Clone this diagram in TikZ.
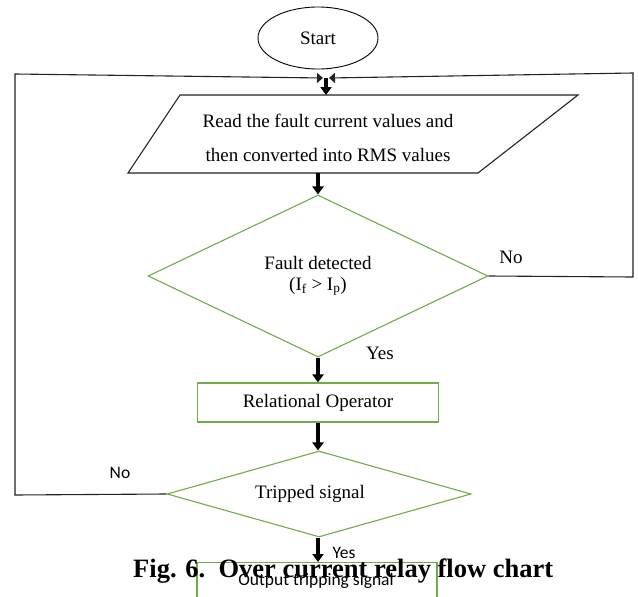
\documentclass[tikz,border=0pt]{standalone}
\usepackage{fontspec}
\setmainfont{Liberation Serif}
\newfontfamily\calibrifont{Carlito}
\usetikzlibrary{shapes.geometric,arrows.meta}
\definecolor{fgreen}{RGB}{112,173,71}
\definecolor{lgray}{RGB}{35,35,35}
\begin{document}
\begin{tikzpicture}[x=1pt,y=-1pt,
  txt/.style={font=\fontsize{19}{21}\selectfont, inner sep=0pt, align=center},
  sans/.style={font=\calibrifont\fontsize{17.5}{20}\selectfont, inner sep=0pt},
  gbox/.style={draw=fgreen, line width=1.1pt},
  bline/.style={draw=lgray, line width=1.1pt},
  looptip/.style={-{Triangle[width=10pt,length=6pt]}},
  flow/.style={-{Triangle[width=11pt,length=8pt]}, line width=3.4pt, draw=black},
]
\useasboundingbox (0,0) rectangle (638,597);
\fill[white] (0,0) rectangle (638,597);
\clip (0,0) rectangle (638,597);

% start
\node[ellipse, draw=black, line width=0.9pt, minimum width=120pt, minimum height=62pt, txt] (start) at (318,38) {Start};

% input parallelogram
\coordinate (p1) at (180,95);
\coordinate (p2) at (578,95);
\coordinate (p3) at (478,173);
\coordinate (p4) at (128,173);
\draw[bline] (p1) -- (p2) -- (p3) -- (p4) -- cycle;
\node[txt, font=\fontsize{19}{34}\selectfont] (readtxt) at (328,138) {Read the fault current values and\\then converted into RMS values};
\coordinate (ptop) at (326,95);
\coordinate (pbot) at (318,173);

% decision 1
\node[diamond, gbox, minimum width=340pt, minimum height=162pt, aspect=2.1, txt] (d1) at (318,276) {Fault detected\\(I\textsubscript{f} > I\textsubscript{p})};

% relational operator
\node[rectangle, gbox, minimum width=241pt, minimum height=39pt, txt] (rel) at (318,402.5) {Relational Operator};

% decision 2
\node[diamond, gbox, minimum width=304pt, minimum height=86pt, aspect=3.5, inner sep=0pt] (d2) at (319,494) {};
\node[txt, anchor=base] (d2t) at (310,498) {Tripped signal};

% output box
\node[rectangle, gbox, minimum width=240pt, minimum height=60pt, anchor=north, inner sep=0pt] (out) at (317,562) {};
\node[sans, anchor=base] (outtxt) at (316,585) {Output tripping signal};

% labels
\node[txt, anchor=base] (no1) at (511,263) {No};
\node[txt, anchor=base] (yes1) at (380,359) {Yes};
\node[sans, anchor=base] (no2) at (120,478) {No};
\node[sans, anchor=base] (yes2) at (344,558) {Yes};

% loop-back lines
\coordinate (j) at (326,78);
\coordinate (jl) at (323,78);
\coordinate (jr) at (329,78);
\coordinate (lc1) at (15,495);
\coordinate (lc2) at (15,74);
\coordinate (rc1) at (633,277);
\coordinate (rc2) at (633,73);
\draw[bline, looptip] (d2.west) -- (lc1) -- (lc2) -- (jl);
\draw[bline, looptip] (d1.east) -- (rc1) -- (rc2) -- (jr);

% flow arrows
\draw[flow] (j) -- (ptop);
\draw[flow] (pbot) -- (d1.north);
\draw[flow] (d1.south) -- (d1.south |- rel.north);
\draw[flow] (d1.south |- rel.south) -- (d1.south |- d2.north);
\draw[flow] (d1.south |- d2.south) -- (d1.south |- out.north);

% caption
\node[font=\bfseries\fontsize{26.5}{30}\selectfont, inner sep=0pt, anchor=base west] (cap) at (133,577) {Fig. 6.\ \ Over current relay flow chart};
\end{tikzpicture}
\end{document}
